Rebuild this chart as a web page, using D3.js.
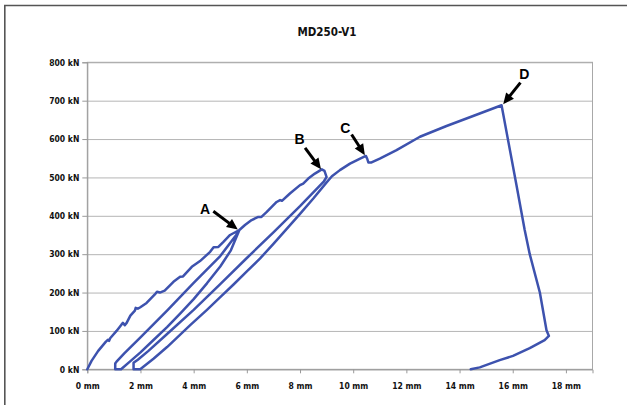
<!DOCTYPE html>
<html>
<head>
<meta charset="utf-8">
<script src="https://cdn.jsdelivr.net/npm/d3@7"></script>
<style>
  html, body { margin: 0; padding: 0; background: #fff; }
  #chart { width: 627px; height: 405px; }
</style>
</head>
<body>
<div id="chart"></div>
<script>
// displacement (mm), force (kN), in load order
var initialLoad = [[0,0],[0.16,22],[0.41,48],[0.7,72],[0.78,77],[0.82,74],[0.86,81],[1.1,100],[1.29,117],[1.34,121],[1.41,115],[1.48,121],
    [1.62,140],[1.79,153],[1.82,160],[1.9,158],[1.98,161],[2.23,173],[2.54,195],[2.62,202],[2.73,200],[2.91,205],[3.24,228],
    [3.49,241],[3.6,242],[3.93,267],[4.24,282],[4.62,306],[4.75,318],[4.93,319],[5.12,332],[5.37,350],[5.72,363]];
var loop1Unload = [[5.72,363],[5.6,350],[5.0,295],[4.0,225],[3.0,153],[2.0,83],[1.4,42],[1.1,20],[1.05,15],[1.05,0]];
var loop1Reload = [[1.05,0],[1.27,0],[1.6,20],[2.0,44],[2.5,77],[3.0,110],[3.5,146],[4.0,183],[4.5,224],[5.0,268],[5.4,310],[5.72,363]];
var loadAB = [[5.72,363],[5.93,376],[6.18,389],[6.43,397],[6.55,397],[6.75,410],[7.12,436],[7.25,441],[7.32,439],[7.62,458],
    [8.0,480],[8.12,484],[8.31,497],[8.56,510],[8.82,521],[8.92,517],[9.0,501]];
var loop2Unload = [[9.0,501],[8.9,490],[8.0,425],[7.0,357],[6.0,290],[5.0,222],[4.0,155],[3.0,92],[2.3,48],[1.9,25],[1.74,17],[1.74,0]];
var loop2Reload = [[1.74,0],[1.99,0],[2.5,28],[3.0,58],[3.87,115],[4.5,155],[5.0,188],[5.5,221],[6.0,255],[6.5,289],[7.0,327],
    [7.5,366],[8.0,405],[8.5,445],[9.0,487],[9.2,503]];
var loadToPeak = [[9.2,503],[9.5,519],[9.88,536],[10.26,549],[10.48,556],[10.53,548],[10.57,539],[10.69,539],[11.0,549],[11.63,571],
    [12.51,606],[13.51,634],[14.51,660],[15.58,688]];
var postPeak = [[15.58,688],[16.14,480],[16.45,363],[16.64,300],[17.02,200],[17.27,102],[17.36,87],[17.2,76],[16.64,55],
    [16.01,35],[15.51,24],[14.76,5],[14.42,0]];

var xTicks = [0,2,4,6,8,10,12,14,16,18];
var yTicks = [0,100,200,300,400,500,600,700,800];

// annotation arrows: label, tip, tail, label anchor (data units)
var markLabels = ['A','B','C','D'];
var markTips = [[5.66,364],[8.79,521],[10.44,558],[15.64,691]];
var markTails = [[4.74,412],[8.19,577],[9.94,612],[16.29,747]];
var markText = [[4.43,404],[7.98,586],[9.70,617],[16.44,756]];

var title = 'MD250-V1';

function drawChart() {
    var container = document.getElementById('chart');
    var width = 627, height = 405;
    var margin = { top: 62.3, right: 34.5, bottom: 35.7, left: 87.3 };
    var innerWidth = width - margin.left - margin.right;
    var innerHeight = height - margin.top - margin.bottom;
    var tickFont = "'DejaVu Sans Condensed', 'DejaVu Sans', sans-serif";

    var svg = d3.select(container).append('svg')
        .attr('width', width)
        .attr('height', height);

    svg.append('rect').attr('width', width).attr('height', height).attr('fill', '#fff');

    // outer frame (only left and top edges visible)
    svg.append('line').attr('x1', 4.8).attr('y1', 5.5).attr('x2', 4.8).attr('y2', height)
        .attr('stroke', '#555').attr('stroke-width', 1.6);
    svg.append('line').attr('x1', 4).attr('y1', 5.5).attr('x2', width).attr('y2', 5.5)
        .attr('stroke', '#555').attr('stroke-width', 1.6);

    svg.append('text')
        .attr('x', 327).attr('y', 36)
        .attr('text-anchor', 'middle')
        .style('font-family', tickFont)
        .style('font-weight', 'bold')
        .style('font-size', '11.5px')
        .attr('fill', '#111')
        .text(title);

    var g = svg.append('g').attr('transform', 'translate(' + margin.left + ',' + margin.top + ')');

    var x = d3.scaleLinear().domain([0, 19]).range([0, innerWidth]);
    var y = d3.scaleLinear().domain([0, 800]).range([innerHeight, 0]);

    // gridlines
    g.append('g')
        .attr('class', 'grid')
        .call(d3.axisLeft(y).tickValues(yTicks).tickSize(-innerWidth).tickFormat(''))
        .call(function(s){ s.select('.domain').remove(); })
        .selectAll('line').attr('stroke', '#b5b5b5').attr('stroke-width', 1);

    // plot border
    g.append('rect')
        .attr('width', innerWidth).attr('height', innerHeight)
        .attr('fill', 'none').attr('stroke', '#a8a8a8').attr('stroke-width', 1);

    var yAxis = g.append('g')
        .call(d3.axisLeft(y).tickValues(yTicks).tickSize(5).tickPadding(3)
            .tickFormat(function(d){ return d + ' kN'; }));
    var xAxis = g.append('g')
        .attr('transform', 'translate(0,' + innerHeight + ')')
        .call(d3.axisBottom(x).tickValues(xTicks).tickSize(4).tickPadding(10)
            .tickFormat(function(d){ return d + ' mm'; }));

    [yAxis, xAxis].forEach(function(a){
        a.select('.domain').attr('stroke', '#999');
        a.selectAll('.tick line').attr('stroke', '#999');
        a.selectAll('.tick text')
            .attr('fill', '#111')
            .style('font-family', tickFont)
            .style('font-weight', 'bold')
            .style('font-size', '8.5px');
    });

    // load-displacement curve
    var path = [].concat(initialLoad, loop1Unload, loop1Reload, loadAB, loop2Unload, loop2Reload, loadToPeak, postPeak);
    var line = d3.line()
        .x(function(d){ return x(d[0]); })
        .y(function(d){ return y(d[1]); });

    g.append('path')
        .datum(path)
        .attr('fill', 'none')
        .attr('stroke', '#3d52ae')
        .attr('stroke-width', 2.5)
        .attr('stroke-linejoin', 'round')
        .attr('stroke-linecap', 'round')
        .attr('d', line);

    // arrows + letters
    markLabels.forEach(function(lbl, i){
        var tx = x(markTips[i][0]), ty = y(markTips[i][1]);
        var sx = x(markTails[i][0]), sy = y(markTails[i][1]);
        var dx = tx - sx, dy = ty - sy;
        var len = Math.sqrt(dx * dx + dy * dy);
        var ux = dx / len, uy = dy / len;
        var headLen = 11, headHalf = 5;
        var bx = tx - ux * headLen, by = ty - uy * headLen;

        g.append('line')
            .attr('x1', sx).attr('y1', sy)
            .attr('x2', bx + ux).attr('y2', by + uy)
            .attr('stroke', '#000').attr('stroke-width', 3);
        g.append('path')
            .attr('d', 'M' + tx + ',' + ty +
                'L' + (bx - uy * headHalf) + ',' + (by + ux * headHalf) +
                'L' + (bx + uy * headHalf) + ',' + (by - ux * headHalf) + 'Z')
            .attr('fill', '#000');
        g.append('text')
            .attr('x', x(markText[i][0]))
            .attr('y', y(markText[i][1]))
            .attr('text-anchor', 'middle')
            .style('font-family', "'Liberation Sans', Arial, sans-serif")
            .style('font-weight', 'bold')
            .style('font-size', '14px')
            .attr('fill', '#000')
            .text(lbl);
    });
}

drawChart();
</script>
</body>
</html>
